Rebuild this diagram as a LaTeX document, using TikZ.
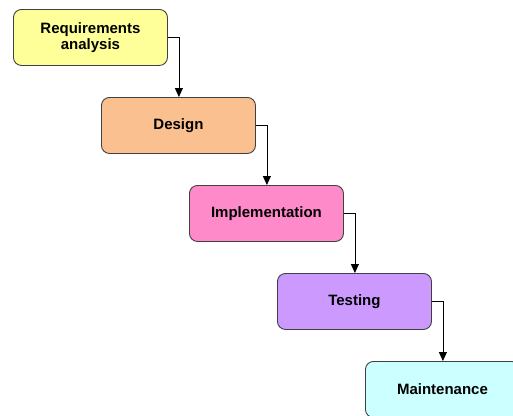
\documentclass[tikz,border=0pt]{standalone}
\usepackage{fontspec}
\setmainfont{Liberation Sans}
\usetikzlibrary{arrows.meta}
\definecolor{c1}{HTML}{FFFF99}
\definecolor{c2}{HTML}{FAC090}
\definecolor{c3}{HTML}{FF8ACA}
\definecolor{c4}{HTML}{CC99FF}
\definecolor{c5}{HTML}{CCFFFF}
\definecolor{edge}{HTML}{404040}
\tikzset{
  phase/.style={draw=edge, line width=0.9pt, rounded corners=8pt, minimum width=154pt, minimum height=56pt,
    inner sep=0pt, align=center, font=\fontsize{15}{15.5}\selectfont\bfseries, anchor=north west},
  conn/.style={draw=black, line width=0.8pt, -{Triangle[width=8pt,length=9pt]}}
}
\begin{document}
\begin{tikzpicture}[x=1pt,y=-1pt]
\useasboundingbox (0,0) rectangle (513,415);
\node[phase, fill=c1] (a) at (13,9) {Requirements\\analysis};
\node[phase, fill=c2] (b) at (101,97) {Design};
\node[phase, fill=c3] (c) at (189,185) {Implementation};
\node[phase, fill=c4] (d) at (277,273) {Testing};
\node[phase, fill=c5] (e) at (365,361) {Maintenance};
\draw[conn] (a.east) -| ([xshift=11pt]a.east |- b.north);
\draw[conn] (b.east) -| ([xshift=11pt]b.east |- c.north);
\draw[conn] (c.east) -| ([xshift=11pt]c.east |- d.north);
\draw[conn] (d.east) -| ([xshift=11pt]d.east |- e.north);
\end{tikzpicture}
\end{document}
